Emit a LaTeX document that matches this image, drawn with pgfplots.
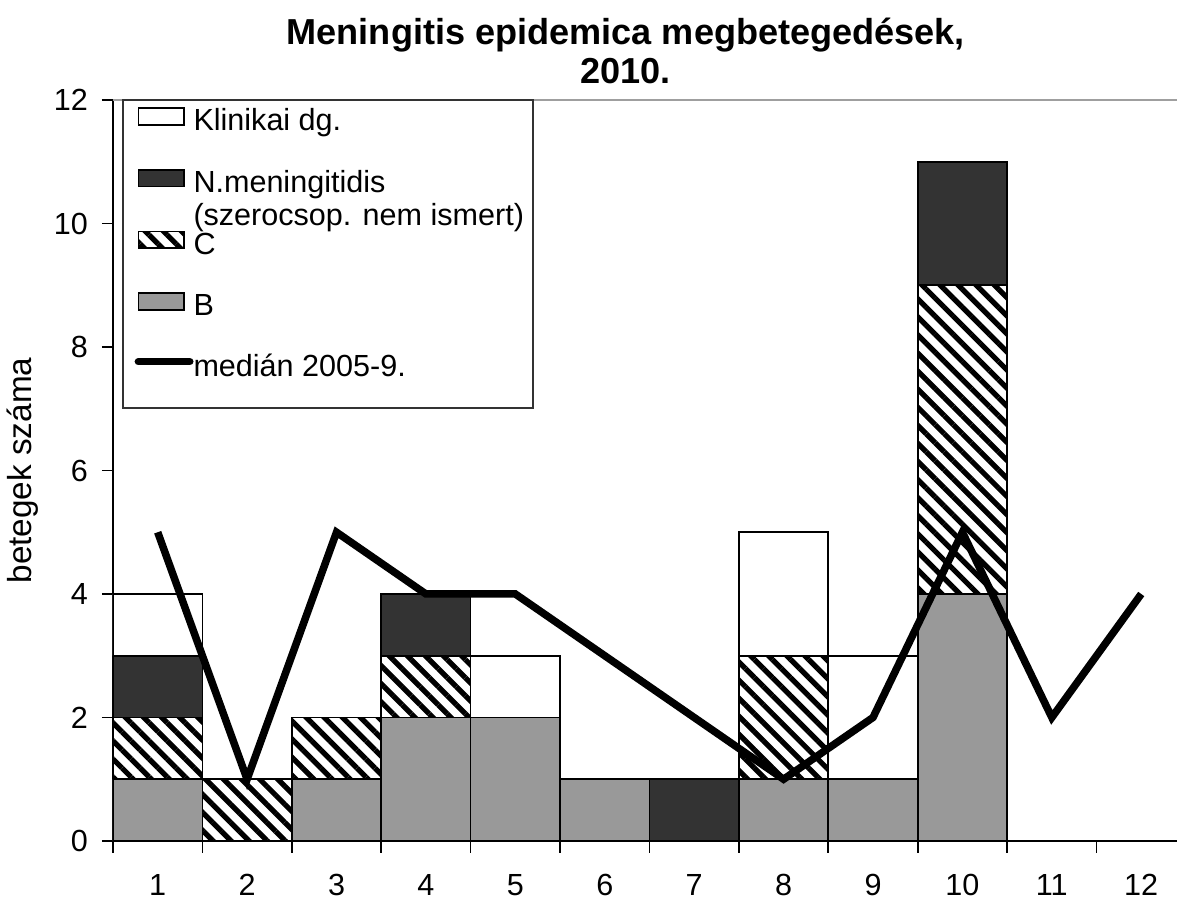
\documentclass[border=0pt]{standalone}
\usepackage{fontspec}
\setmainfont{Liberation Sans}
\usepackage{pgfplots}
\usepackage{pgfplotstable}
\pgfplotsset{compat=1.18}
\usetikzlibrary{patterns.meta,calc}
\definecolor{graybar}{RGB}{153,153,153}
\definecolor{darkbar}{RGB}{51,51,51}

\pgfplotstableread{
month B C N K med
1 1 1 1 1 5
2 0 1 0 0 1
3 1 1 0 0 5
4 2 1 1 0 4
5 2 0 0 1 4
6 1 0 0 0 3
7 0 0 1 0 2
8 1 2 0 2 1
9 1 0 0 2 2
10 4 5 2 0 5
11 0 0 0 0 2
12 0 0 0 0 4
}\data

\pgfplotsset{
  lbar/.style={legend image code/.code={\draw[##1,line width=0.6pt] (0pt,-0.3pt) rectangle (16.5pt,5.7pt);}},
  lline/.style={legend image code/.code={\draw[##1] (0pt,2.7pt) -- (18.5pt,2.7pt);}},
}

\begin{document}
\begin{tikzpicture}
\begin{axis}[
  name=ax,
  scale only axis, width=383.04pt, height=266.76pt,
  xmin=0.5, xmax=12.4, ymin=0, ymax=12,
  ybar stacked, bar width=1,
  axis x line*=bottom, axis y line*=left,
  axis line style={line width=0.7pt, black},
  tick align=outside,
  xtick={1,...,12}, major x tick style={draw=none},
  minor xtick={0.5,1.5,...,11.5}, minor tick length=4.3pt,
  minor x tick style={black, line width=0.6pt},
  ytick={0,2,...,12}, major tick length=4pt,
  y tick style={black, line width=0.6pt},
  extra y ticks={12}, extra y tick labels={},
  extra y tick style={grid=major, major grid style={gray!75, line width=0.9pt}},
  tick label style={font=\fontsize{11}{13}\selectfont},
  /pgf/number format/assume math mode=true,
  xticklabel style={anchor=north, inner sep=0pt, text height=7.9pt, text depth=0pt, yshift=-7.6pt},
  yticklabel style={xshift=-1.5pt},
  ylabel={betegek száma},
  ylabel style={font=\fontsize{12}{14}\selectfont, at={(axis description cs:-0.0846,0.5)}, anchor=center},
  title={Meningitis epidemica megbetegedések,\\2010.},
  title style={at={(axis description cs:0.482,1)}, anchor=south, yshift=-0.3pt, inner sep=0pt,
    font=\bfseries\fontsize{13}{14}\selectfont, align=center},
  legend style={at={(axis description cs:0.0198,0.991)}, anchor=north west, draw=none, fill=none,
    inner sep=0pt, row sep=10.7pt, column sep=0pt, font=\fontsize{11}{12}\selectfont,
    nodes={inner xsep=0pt, inner ysep=0pt, text height=8pt, text depth=3pt}},
  legend cell align=left,
]
\addlegendimage{lbar, draw=black, fill=white}
\addlegendentry{Klinikai dg.}
\addlegendimage{lbar, draw=black, fill=darkbar}
\addlegendentry{\smash{\begin{tabular}[t]{@{}l@{}}N.meningitidis\\(szerocsop. nem ismert)\end{tabular}}}
\addlegendimage{lbar, draw=black, pattern={Lines[angle=-45,distance=4.6pt,line width=1.9pt]}}
\addlegendentry{C}
\addlegendimage{lbar, draw=black, fill=graybar}
\addlegendentry{B}
\addlegendimage{lline, black, line width=2.7pt, line cap=round}
\addlegendentry{medián 2005-9.}

\addplot[forget plot, draw=black, line width=0.6pt, fill=graybar] table[x=month,y=B]{\data};
\addplot[forget plot, draw=black, line width=0.6pt, pattern={Lines[angle=-45,distance=4.6pt,line width=1.9pt]}] table[x=month,y=C]{\data};
\addplot[forget plot, draw=black, line width=0.6pt, fill=darkbar] table[x=month,y=N]{\data};
\addplot[forget plot, draw=black, line width=0.6pt, fill=white] table[x=month,y=K]{\data};

\draw[line width=0.6pt, black!80] (rel axis cs:0.0094,1.0) rectangle (rel axis cs:0.3947,0.5843);
\end{axis}
\begin{axis}[
  scale only axis, width=383.04pt, height=266.76pt,
  xmin=0.5, xmax=12.4, ymin=0, ymax=12,
  axis lines=none, clip=false,
]
\addplot[black, line width=2.7pt, sharp plot, mark=none] table[x=month,y=med]{\data};
\end{axis}
\pgfresetboundingbox
\path ($(ax.south west)+(-40.68pt,-20.88pt)$) rectangle ($(ax.north east)+(0pt,36pt)$);
\end{tikzpicture}
\end{document}
